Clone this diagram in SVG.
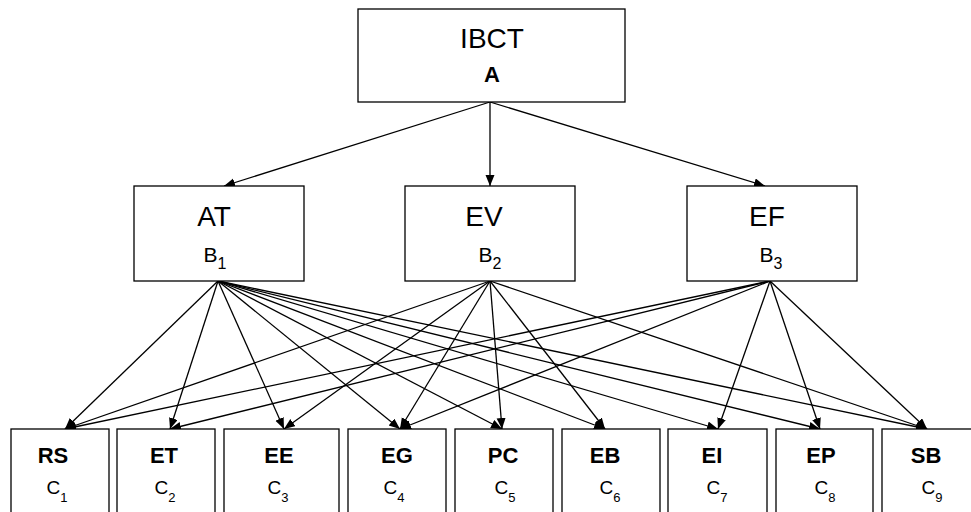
<svg xmlns="http://www.w3.org/2000/svg" width="971" height="512" viewBox="0 0 971 512">
<style>
.box{fill:#fff;stroke:#000;stroke-width:1.3}
.t{font-family:"Liberation Sans",Arial,sans-serif;fill:#000;text-anchor:middle}
.big{font-size:28px}
.mid{font-size:21px}
.bold{font-weight:bold}
.lbl{font-size:22px;font-weight:bold}
.c{font-size:19px}
.e{stroke:#000;stroke-width:1.3;fill:none;marker-end:url(#ah)}
</style>
<defs>
<marker id="ah" markerUnits="userSpaceOnUse" markerWidth="12" markerHeight="10" refX="11" refY="4.5" orient="auto">
<path d="M0,0 L11,4.5 L0,9 z" fill="#000"/>
</marker>
</defs>
<rect width="971" height="512" fill="#fff"/>
<g id="connectors">
<line class="e" x1="490" y1="102" x2="224" y2="186"/>
<line class="e" x1="490" y1="102" x2="490" y2="186"/>
<line class="e" x1="490" y1="102" x2="765" y2="186"/>
<line class="e" x1="218" y1="281" x2="65" y2="429"/>
<line class="e" x1="218" y1="281" x2="170" y2="429"/>
<line class="e" x1="218" y1="281" x2="284" y2="429"/>
<line class="e" x1="218" y1="281" x2="400" y2="429"/>
<line class="e" x1="218" y1="281" x2="502" y2="429"/>
<line class="e" x1="218" y1="281" x2="605" y2="429"/>
<line class="e" x1="218" y1="281" x2="718" y2="429"/>
<line class="e" x1="218" y1="281" x2="820" y2="429"/>
<line class="e" x1="218" y1="281" x2="927" y2="429"/>
<line class="e" x1="490" y1="281" x2="65" y2="429"/>
<line class="e" x1="490" y1="281" x2="284" y2="429"/>
<line class="e" x1="490" y1="281" x2="400" y2="429"/>
<line class="e" x1="490" y1="281" x2="502" y2="429"/>
<line class="e" x1="490" y1="281" x2="605" y2="429"/>
<line class="e" x1="490" y1="281" x2="927" y2="429"/>
<line class="e" x1="770" y1="281" x2="65" y2="429"/>
<line class="e" x1="770" y1="281" x2="170" y2="429"/>
<line class="e" x1="770" y1="281" x2="400" y2="429"/>
<line class="e" x1="770" y1="281" x2="718" y2="429"/>
<line class="e" x1="770" y1="281" x2="820" y2="429"/>
<line class="e" x1="770" y1="281" x2="927" y2="429"/>
</g>
<g id="A">
<rect class="box" x="358" y="9" width="267" height="93"/>
<text class="t big" x="492" y="48">IBCT</text>
<text class="t bold" font-size="22" x="492" y="82">A</text>
</g>
<g id="B1">
<rect class="box" x="134" y="186" width="170" height="95"/>
<text class="t big" x="214" y="226">AT</text>
<text class="t mid" x="215" y="262">B<tspan font-size="16" dy="7">1</tspan></text>
</g>
<g id="B2">
<rect class="box" x="405" y="186" width="170" height="95"/>
<text class="t big" x="484" y="226">EV</text>
<text class="t mid" x="490" y="262">B<tspan font-size="16" dy="7">2</tspan></text>
</g>
<g id="B3">
<rect class="box" x="687" y="186" width="170" height="95"/>
<text class="t big" x="767" y="226">EF</text>
<text class="t mid" x="771" y="262">B<tspan font-size="16" dy="7">3</tspan></text>
</g>
<g id="C1">
<rect class="box" x="11" y="429" width="98" height="95"/>
<text class="t lbl" x="53" y="463">RS</text>
<text class="t c" x="57" y="494">C<tspan font-size="13" dy="8">1</tspan></text>
</g>
<g id="C2">
<rect class="box" x="117" y="429" width="98" height="95"/>
<text class="t lbl" x="164" y="463">ET</text>
<text class="t c" x="165" y="494">C<tspan font-size="13" dy="8">2</tspan></text>
</g>
<g id="C3">
<rect class="box" x="224" y="429" width="115" height="95"/>
<text class="t lbl" x="279" y="463">EE</text>
<text class="t c" x="278" y="494">C<tspan font-size="13" dy="8">3</tspan></text>
</g>
<g id="C4">
<rect class="box" x="348" y="429" width="98" height="95"/>
<text class="t lbl" x="397" y="463">EG</text>
<text class="t c" x="394" y="494">C<tspan font-size="13" dy="8">4</tspan></text>
</g>
<g id="C5">
<rect class="box" x="455" y="429" width="98" height="95"/>
<text class="t lbl" x="503" y="463">PC</text>
<text class="t c" x="505" y="494">C<tspan font-size="13" dy="8">5</tspan></text>
</g>
<g id="C6">
<rect class="box" x="562" y="429" width="98" height="95"/>
<text class="t lbl" x="605" y="463">EB</text>
<text class="t c" x="610" y="494">C<tspan font-size="13" dy="8">6</tspan></text>
</g>
<g id="C7">
<rect class="box" x="668" y="429" width="99" height="95"/>
<text class="t lbl" x="712" y="463">EI</text>
<text class="t c" x="717" y="494">C<tspan font-size="13" dy="8">7</tspan></text>
</g>
<g id="C8">
<rect class="box" x="776" y="429" width="97" height="95"/>
<text class="t lbl" x="821" y="463">EP</text>
<text class="t c" x="825" y="494">C<tspan font-size="13" dy="8">8</tspan></text>
</g>
<g id="C9">
<rect class="box" x="882" y="429" width="98" height="95"/>
<text class="t lbl" x="926" y="463">SB</text>
<text class="t c" x="932" y="494">C<tspan font-size="13" dy="8">9</tspan></text>
</g>
</svg>
